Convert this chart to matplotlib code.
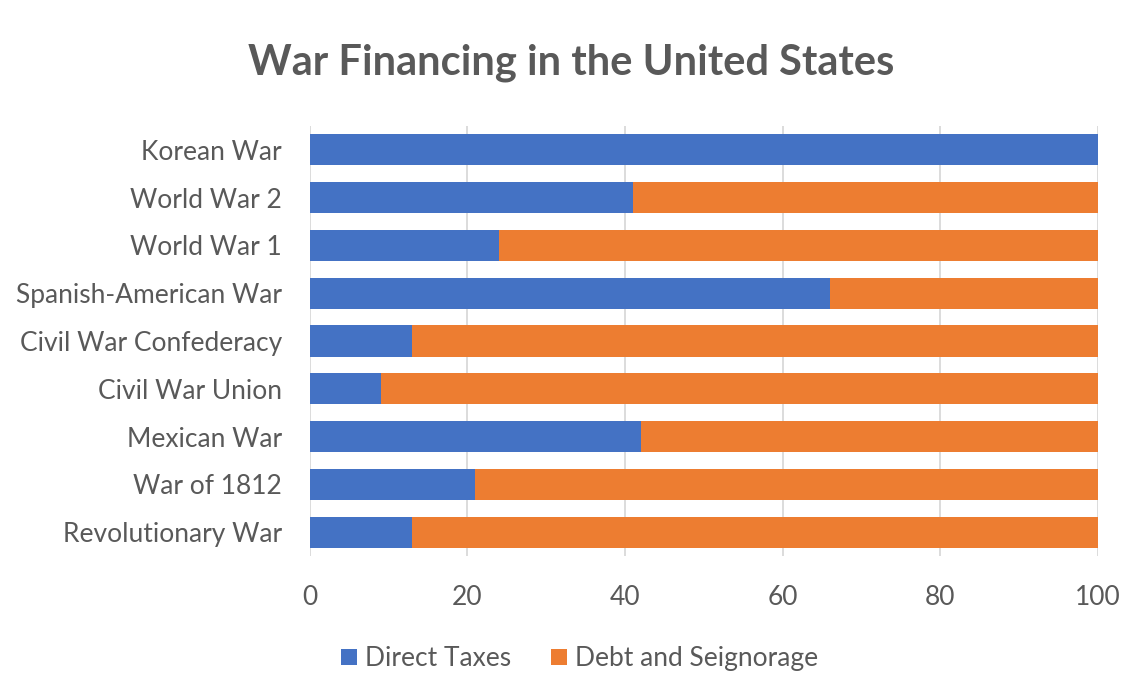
import matplotlib.pyplot as plt
import numpy as np

# Data (percent of war costs financed)
wars = ['Revolutionary War', 'War of 1812', 'Mexican War', 'Civil War Union',
        'Civil War Confederacy', 'Spanish-American War', 'World War 1',
        'World War 2', 'Korean War']
direct_taxes = [13, 21, 42, 9, 13, 66, 24, 41, 100]
debt_seignorage = [87, 79, 58, 91, 87, 34, 76, 59, 0]

BLUE = '#4472C4'
ORANGE = '#ED7D31'
TEXT = '#595959'

plt.rcParams['font.family'] = ['Lato', 'DejaVu Sans']

fig = plt.figure(figsize=(11.43, 7.0), dpi=100)
ax = fig.add_axes([0.271, 0.2057, 0.6894, 0.6143])

y = np.arange(len(wars))
ax.barh(y, direct_taxes, height=0.65, color=BLUE, label='Direct Taxes', zorder=3)
ax.barh(y, debt_seignorage, height=0.65, left=direct_taxes, color=ORANGE,
        label='Debt and Seignorage', zorder=3)

ax.set_xlim(0, 100)
ax.set_ylim(-0.5, len(wars) - 0.5)
ax.set_xticks([0, 20, 40, 60, 80, 100])
ax.set_yticks(y)
ax.set_yticklabels(wars)
ax.tick_params(axis='both', length=0, labelsize=19, colors=TEXT)
ax.tick_params(axis='x', pad=21)
ax.tick_params(axis='y', pad=20)

ax.grid(axis='x', color='#D9D9D9', linewidth=1.3, zorder=0)
for s in ax.spines.values():
    s.set_visible(False)

fig.text(0.5, 0.911, 'War Financing in the United States', ha='center', va='center',
         fontsize=30, fontweight='bold', color=TEXT)

fig.legend(loc='center', bbox_to_anchor=(0.507, 0.059), ncol=2, frameon=False,
           fontsize=19, labelcolor=TEXT, handlelength=0.6, handleheight=0.6,
           handletextpad=0.3, columnspacing=1.5)

plt.savefig('out.png', dpi=100)
